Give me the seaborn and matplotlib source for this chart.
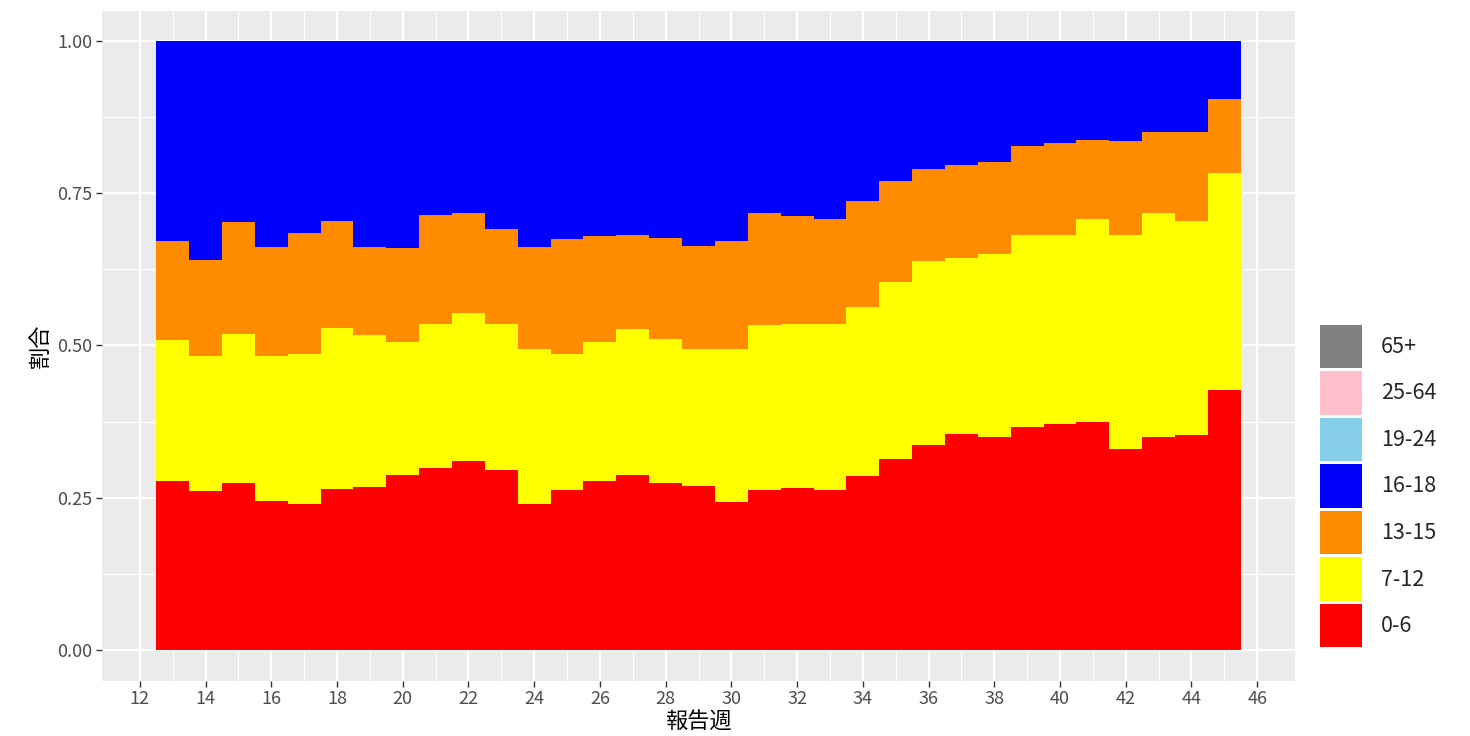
import numpy as np
import pandas as pd
import matplotlib
matplotlib.use("Agg")
import matplotlib.pyplot as plt
from matplotlib.patches import Patch
import seaborn as sns

# Weekly share by age group
weeks = list(range(13, 46))
age_groups = ["0-6", "7-12", "13-15", "16-18", "19-24", "25-64", "65+"]
age_colors = ["red", "yellow", "darkorange", "blue", "skyblue", "pink", "grey"]

share_0_6 = [0.277, 0.261, 0.275, 0.244, 0.240, 0.264, 0.268, 0.287, 0.299, 0.310, 0.296,
             0.240, 0.262, 0.277, 0.287, 0.275, 0.269, 0.243, 0.262, 0.266, 0.262, 0.285,
             0.313, 0.337, 0.355, 0.349, 0.367, 0.371, 0.374, 0.330, 0.349, 0.353, 0.427]
share_7_12 = [0.232, 0.221, 0.244, 0.239, 0.246, 0.264, 0.249, 0.218, 0.237, 0.243, 0.240,
              0.255, 0.224, 0.229, 0.240, 0.235, 0.226, 0.252, 0.272, 0.269, 0.273, 0.279,
              0.291, 0.301, 0.289, 0.302, 0.314, 0.310, 0.334, 0.351, 0.368, 0.352, 0.356]
share_13_15 = [0.163, 0.159, 0.184, 0.178, 0.199, 0.176, 0.145, 0.155, 0.178, 0.164, 0.155,
               0.167, 0.189, 0.173, 0.154, 0.166, 0.168, 0.177, 0.183, 0.177, 0.172, 0.174,
               0.166, 0.151, 0.153, 0.151, 0.147, 0.152, 0.129, 0.155, 0.134, 0.145, 0.122]
share_16_18 = [0.328, 0.359, 0.297, 0.339, 0.315, 0.296, 0.338, 0.340, 0.286, 0.283, 0.309,
               0.338, 0.325, 0.321, 0.319, 0.324, 0.337, 0.328, 0.283, 0.288, 0.293, 0.262,
               0.230, 0.211, 0.203, 0.198, 0.172, 0.167, 0.163, 0.164, 0.149, 0.150, 0.095]
share_19_24 = [0.0] * len(weeks)
share_25_64 = [0.0] * len(weeks)
share_65 = [0.0] * len(weeks)

shares = [share_0_6, share_7_12, share_13_15, share_16_18, share_19_24, share_25_64, share_65]

rows = []
for grp, vals in zip(age_groups, shares):
    for w, v in zip(weeks, vals):
        rows.append({"week": w, "age": grp, "share": v})
df = pd.DataFrame(rows)

sns.set_theme(style="darkgrid")
plt.rcParams["font.family"] = ["Noto Sans CJK JP", "DejaVu Sans"]
plt.rcParams["axes.facecolor"] = "#EBEBEB"
plt.rcParams["grid.color"] = "white"

fig, ax = plt.subplots(figsize=(14.7, 7.36), dpi=100)
fig.subplots_adjust(left=102 / 1470, right=1295 / 1470, bottom=1 - 680.5 / 736, top=1 - 10.5 / 736)

# top of stack = first hue level, so reverse the order
order = age_groups[::-1]
pal = dict(zip(age_groups, age_colors))
sns.histplot(data=df, x="week", weights="share", hue="age", hue_order=order,
             palette=pal, multiple="fill", discrete=True, shrink=1,
             element="bars", linewidth=0, alpha=1, legend=False, ax=ax)

ax.set_xlim(10.85, 47.15)
ax.set_ylim(-0.05, 1.05)
ax.set_xticks(np.arange(12, 47, 2))
ax.set_xticks(np.arange(13, 47, 2), minor=True)
ax.set_yticks([0, 0.25, 0.5, 0.75, 1.0])
ax.set_yticklabels(["0.00", "0.25", "0.50", "0.75", "1.00"])
ax.set_yticks([0.125, 0.375, 0.625, 0.875], minor=True)
ax.grid(which="major", color="white", linewidth=1.6)
ax.grid(which="minor", color="white", linewidth=0.8)
ax.set_axisbelow(True)
for s in ax.spines.values():
    s.set_visible(False)
ax.tick_params(which="major", length=4, width=1, color="#333333", labelcolor="#4D4D4D",
               labelsize=13, pad=3, bottom=True, left=True)
ax.tick_params(which="minor", length=0)

ax.set_xlabel("報告週", fontsize=16, color="black", labelpad=2)
ax.set_ylabel("割合", fontsize=16, color="black", labelpad=4)

handles = [Patch(facecolor=pal[g], edgecolor="none") for g in order]
fig.legend(handles, order, loc="lower left", bbox_to_anchor=(1311 / 1470, 1 - 656 / 736),
           frameon=False, fontsize=15.5, handlelength=1.95, handleheight=2.72,
           handletextpad=0.9, labelspacing=0.15, borderaxespad=0)

fig.savefig("out.png", dpi=100)
